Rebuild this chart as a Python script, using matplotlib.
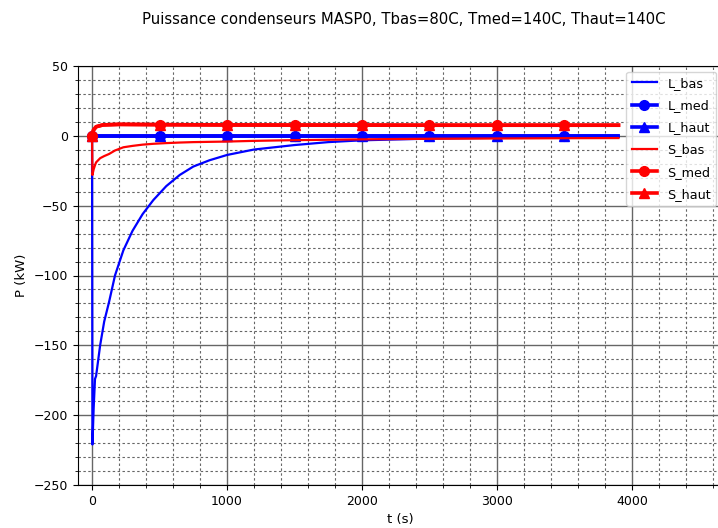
import numpy as np
import matplotlib
matplotlib.use("Agg")
import matplotlib.pyplot as plt
from matplotlib.ticker import MultipleLocator

# Time axis (s) and power (kW)
t_bas = [0, 3, 12, 22, 30, 60, 90, 126, 170, 232, 300, 375, 454, 550, 650,
         750, 870, 1000, 1200, 1500, 1750, 2000, 2500, 3000, 3500, 3900]
L_bas = [0, -221, -195, -174, -172, -150, -133, -119, -100, -82, -68, -56, -46,
         -36, -28, -22, -17.5, -13.7, -9.8, -6.6, -4.5, -3.2, -2.0, -1.4, -1.1, -0.9]
S_bas = [0, -28, -24, -21, -19, -16, -14.5, -13, -10.5, -8.2, -7.2, -6.3, -5.7,
         -5.2, -4.8, -4.5, -4.3, -4.1, -3.6, -3.1, -2.8, -2.5, -2.1, -1.9, -1.7, -1.6]

t_med = [0, 10, 30, 80, 200, 500, 1000, 1500, 2000, 2500, 3000, 3500, 3900]
L_med = [0, 0, 0, 0, 0, 0, 0, 0, 0, 0, 0, 0, 0]
S_med = [0, 4.0, 6.5, 7.8, 8.2, 8.0, 7.8, 7.7, 7.7, 7.6, 7.6, 7.6, 7.6]
# Tmed == Thaut, so the "haut" runs are the same as the "med" runs
L_haut = list(L_med)
S_haut = list(S_med)
mark_idx = [0, 5, 6, 7, 8, 9, 10, 11]

title = "Puissance condenseurs MASP0, Tbas=80C, Tmed=140C, Thaut=140C"

fig = plt.figure(figsize=(7.18, 5.28), dpi=100)
ax = fig.add_axes([78 / 718, 1 - 485 / 528, (722 - 78) / 718, (485 - 66) / 528])

ax.plot(t_bas, L_bas, color="b", lw=1.6, label="L_bas")
ax.plot(t_med, L_med, color="b", lw=2.6, marker="o", ms=7, markevery=mark_idx, label="L_med")
ax.plot(t_med, L_haut, color="b", lw=2.6, marker="^", ms=7, markevery=mark_idx, label="L_haut")
ax.plot(t_bas, S_bas, color="r", lw=1.6, label="S_bas")
ax.plot(t_med, S_med, color="r", lw=2.6, marker="o", ms=7, markevery=mark_idx, label="S_med")
ax.plot(t_med, S_haut, color="r", lw=2.6, marker="^", ms=7, markevery=mark_idx, label="S_haut")

ax.set_xlim(-104, 4667)
ax.set_ylim(-250, 50)
ax.xaxis.set_major_locator(MultipleLocator(1000))
ax.xaxis.set_minor_locator(MultipleLocator(200))
ax.yaxis.set_major_locator(MultipleLocator(50))
ax.yaxis.set_minor_locator(MultipleLocator(10))
ax.grid(which="major", color="0.4", lw=1.0, ls="-")
ax.grid(which="minor", color="0.4", lw=0.8, ls=(0, (2.2, 2.2)))
ax.tick_params(labelsize=9)

ax.set_xlabel("t (s)", fontsize=9.5)
ax.set_ylabel("P (kW)", fontsize=9.5)
fig.suptitle(title, x=0.563, y=0.978, fontsize=10.7)

ax.legend(loc="upper right", fontsize=9.2, labelspacing=0.72,
          handlelength=2.0, borderaxespad=0.45)

fig.savefig("out.png", dpi=100)
